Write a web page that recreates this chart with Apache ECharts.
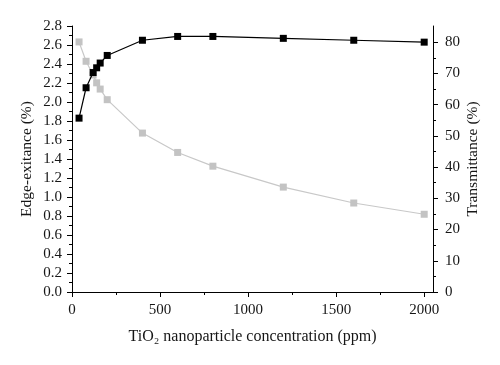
<!DOCTYPE html>
<html>
<head>
<meta charset="utf-8">
<script src="https://cdn.jsdelivr.net/npm/echarts@6/dist/echarts.min.js"></script>
<style>html,body{margin:0;padding:0;background:#fff}#c{width:500px;height:365px}</style>
</head>
<body>
<div id="c"></div>
<script>
const concentration = [40, 80, 120, 140, 160, 200, 400, 600, 800, 1200, 1600, 2000];
const edgeExitance = [1.83, 2.15, 2.31, 2.36, 2.41, 2.49, 2.65, 2.69, 2.69, 2.67, 2.65, 2.63];
const transmittance = [80.1, 73.9, 69.5, 67.0, 65.0, 61.6, 50.9, 44.7, 40.3, 33.6, 28.5, 24.9];
const xTicks = [0, 500, 1000, 1500, 2000];
const xMinorTicks = [250, 750, 1250, 1750];
const leftMinorTicks = [0.1, 0.3, 0.5, 0.7, 0.9, 1.1, 1.3, 1.5, 1.7, 1.9, 2.1, 2.3, 2.5, 2.7];
const rightTicks = [0, 10, 20, 30, 40, 50, 60, 70, 80];
const rightMinorTicks = [5, 15, 25, 35, 45, 55, 65, 75];

const FONT = 'Liberation Serif';
const TXT = '#161616';
const chart = echarts.init(document.getElementById('c'), null, {renderer: 'canvas'});
const lineStyle = {color: '#000', width: 1};
const gridRect = {left: 72, right: 67, top: 26, bottom: 73, containLabel: false};
const minorAxis = (extra) => Object.assign({
  type: 'value', gridIndex: 1,
  axisLine: {show: false},
  axisLabel: {show: false},
  splitLine: {show: false}
}, extra);
chart.setOption({
  animation: false,
  textStyle: {fontFamily: FONT},
  grid: [Object.assign({}, gridRect), Object.assign({}, gridRect)],
  xAxis: [
    {
      type: 'value', gridIndex: 0, min: 0, max: 2050, interval: 500, position: 'bottom',
      name: 'TiO₂ nanoparticle concentration (ppm)', nameLocation: 'middle', nameGap: 37,
      nameMoveOverlap: false,
      nameTextStyle: {fontFamily: FONT, fontSize: 16, color: TXT},
      axisLine: {show: true, lineStyle},
      axisTick: {show: true, inside: false, length: 5, lineStyle, customValues: xTicks},
      axisLabel: {fontFamily: FONT, fontSize: 15, color: TXT, margin: 11, customValues: xTicks, formatter: v => String(v)},
      splitLine: {show: false}
    },
    minorAxis({
      min: 0, max: 2050, position: 'bottom',
      axisTick: {show: true, inside: false, length: 3, lineStyle, customValues: xMinorTicks}
    })
  ],
  yAxis: [
    {
      type: 'value', gridIndex: 0, min: 0, max: 2.8, interval: 0.2, position: 'left',
      name: 'Edge-exitance (%)', nameLocation: 'middle', nameGap: 37, nameRotate: 90,
      nameMoveOverlap: false,
      nameTextStyle: {fontFamily: FONT, fontSize: 15.5, color: TXT},
      axisLine: {show: true, lineStyle},
      axisTick: {show: true, inside: false, length: 5, lineStyle},
      axisLabel: {fontFamily: FONT, fontSize: 15, color: TXT, margin: 10, formatter: v => v.toFixed(1)},
      splitLine: {show: false}
    },
    {
      type: 'value', gridIndex: 0, min: 0, max: 85.2, position: 'right',
      name: 'Transmittance (%)', nameLocation: 'middle', nameGap: 32, nameRotate: 90,
      nameMoveOverlap: false,
      nameTextStyle: {fontFamily: FONT, fontSize: 15.5, color: TXT},
      axisLine: {show: true, lineStyle},
      axisTick: {show: true, inside: false, length: 5, lineStyle, customValues: rightTicks},
      axisLabel: {fontFamily: FONT, fontSize: 15, color: TXT, margin: 12, customValues: rightTicks},
      splitLine: {show: false}
    },
    minorAxis({
      min: 0, max: 2.8, position: 'left',
      axisTick: {show: true, inside: false, length: 3, lineStyle, customValues: leftMinorTicks}
    }),
    minorAxis({
      min: 0, max: 85.2, position: 'right',
      axisTick: {show: true, inside: false, length: 3, lineStyle, customValues: rightMinorTicks}
    })
  ],
  series: [
    {
      type: 'line', xAxisIndex: 0, yAxisIndex: 1, z: 2,
      data: concentration.map((x, i) => [x, transmittance[i]]),
      symbol: 'rect', symbolSize: 7,
      itemStyle: {color: '#c3c3c3'},
      lineStyle: {color: '#c8c8c8', width: 1.2}
    },
    {
      type: 'line', xAxisIndex: 0, yAxisIndex: 0, z: 3,
      data: concentration.map((x, i) => [x, edgeExitance[i]]),
      symbol: 'rect', symbolSize: 7,
      itemStyle: {color: '#000'},
      lineStyle: {color: '#000', width: 1.2}
    }
  ]
});
</script>
</body>
</html>
